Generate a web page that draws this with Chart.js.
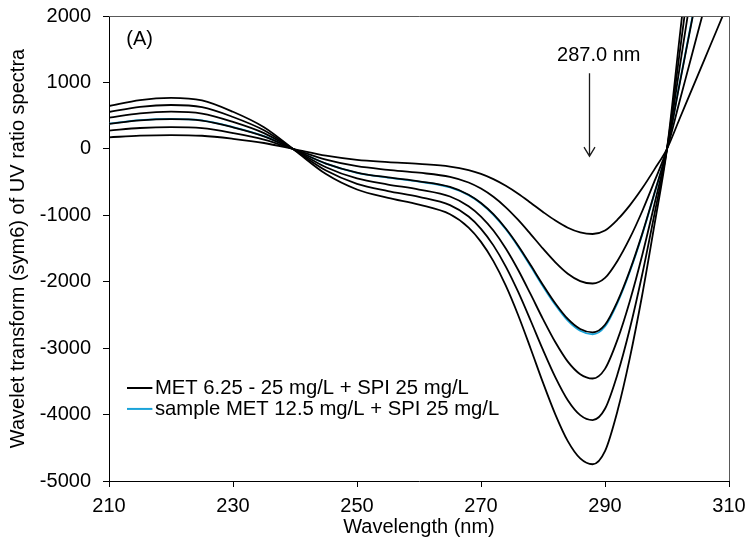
<!DOCTYPE html>
<html>
<head>
<meta charset="utf-8">
<title>Wavelet transform of UV ratio spectra</title>
<script src="https://cdn.jsdelivr.net/npm/chart.js@4/dist/chart.umd.min.js"></script>
<style>
    html, body { margin: 0; padding: 0; background: #fff; }
    #wrap { width: 750px; height: 547px; }
</style>
</head>
<body>
<div id="wrap"><canvas id="waveletChart" width="750" height="547"></canvas></div>
<script>
// Data
const wavelengths = [210, 215, 220, 225, 230, 235, 240, 245, 250, 255, 260, 265, 268, 270, 272, 274, 276, 278, 280, 282, 284, 286, 288, 290, 292, 294, 296, 298, 300, 302, 304, 306, 308, 310];

// MET 6.25 - 25 mg/L (smallest to largest amplitude)
const met1 = [174, 198, 207, 197, 151, 88, -7, -103, -165, -199, -227, -266, -320, -378, -456, -556, -676, -811, -950, -1080, -1188, -1258, -1282, -1229, -1067, -851, -594, -305, 0, 446, 891, 1337, 1782, 2228];
const met2 = [275, 314, 328, 312, 238, 139, -11, -162, -261, -315, -359, -421, -506, -598, -722, -880, -1070, -1283, -1503, -1708, -1879, -1990, -2027, -1943, -1687, -1345, -939, -483, 0, 705, 1409, 2114, 2818, 3523];
const met3 = [375, 428, 447, 425, 325, 189, -15, -221, -356, -430, -489, -573, -690, -815, -984, -1199, -1458, -1749, -2049, -2328, -2561, -2712, -2763, -2648, -2299, -1833, -1280, -658, 0, 960, 1921, 2881, 3841, 4802];
const met4 = [470, 535, 559, 531, 406, 237, -18, -277, -446, -537, -612, -717, -863, -1019, -1230, -1500, -1824, -2188, -2563, -2912, -3203, -3392, -3457, -3312, -2876, -2293, -1602, -823, 0, 1201, 2402, 3604, 4805, 6006];
const met5 = [555, 632, 660, 628, 480, 280, -22, -327, -526, -635, -722, -847, -1019, -1204, -1453, -1772, -2154, -2584, -3027, -3440, -3784, -4008, -4083, -3913, -3397, -2709, -1892, -972, 0, 1419, 2838, 4257, 5676, 7095];
const met6 = [645, 735, 768, 730, 558, 325, -25, -380, -612, -738, -840, -985, -1185, -1400, -1690, -2060, -2505, -3005, -3520, -4000, -4400, -4660, -4748, -4550, -3950, -3150, -2200, -1130, 0, 1650, 3300, 4950, 6600, 8250];

// sample MET 12.5 mg/L
const sample = [379, 432, 452, 429, 328, 191, -15, -223, -360, -434, -494, -579, -697, -823, -994, -1211, -1473, -1767, -2070, -2351, -2587, -2739, -2791, -2674, -2322, -1851, -1293, -665, 0, 970, 1940, 2910, 3879, 4850];

const xTicks = [210, 230, 250, 270, 290, 310];
const yTicks = [2000, 1000, 0, -1000, -2000, -3000, -4000, -5000];

const legendLabels = ['MET 6.25 - 25 mg/L + SPI 25 mg/L', 'sample MET 12.5 mg/L + SPI 25 mg/L'];
const panelLabel = '(A)';
const peakLabel = '287.0 nm';
const peakWavelength = 287.4;

const FONT = "'Liberation Sans', Arial, sans-serif";
const BLACK = '#000000';
const CYAN = '#1aa3d9';

Chart.defaults.font.family = FONT;
Chart.defaults.color = BLACK;

function toPoints(values) {
    return wavelengths.map((w, i) => ({ x: w, y: values[i] }));
}

function lineDataset(label, values, color) {
    return {
        label: label,
        data: toPoints(values),
        borderColor: color,
        borderWidth: 1.8,
        pointRadius: 0,
        fill: false,
        cubicInterpolationMode: 'monotone'
    };
}

// Frame, arrow, labels and legend drawn inside the plot area
const annotationsPlugin = {
    id: 'annotations',
    afterDatasetsDraw(chart) {
        const { ctx, chartArea: a, scales: { x, y } } = chart;
        ctx.save();

        // top / right frame
        ctx.strokeStyle = '#595959';
        ctx.lineWidth = 1;
        ctx.beginPath();
        ctx.moveTo(a.left, a.top + 0.5);
        ctx.lineTo(a.right + 0.5, a.top + 0.5);
        ctx.lineTo(a.right + 0.5, a.bottom);
        ctx.stroke();

        // arrow
        const ax = Math.round(x.getPixelForValue(peakWavelength)) + 0.5;
        const ay1 = y.getPixelForValue(1140);
        const ay2 = y.getPixelForValue(-110);
        ctx.strokeStyle = '#1a1a1a';
        ctx.lineWidth = 1.3;
        ctx.beginPath();
        ctx.moveTo(ax, ay1);
        ctx.lineTo(ax, ay2);
        ctx.moveTo(ax - 5.5, ay2 - 9);
        ctx.lineTo(ax, ay2);
        ctx.lineTo(ax + 5.5, ay2 - 9);
        ctx.stroke();

        ctx.fillStyle = BLACK;
        ctx.font = '20px ' + FONT;
        ctx.textBaseline = 'middle';
        ctx.textAlign = 'center';
        ctx.fillText(peakLabel, x.getPixelForValue(289.0), y.getPixelForValue(1400));

        ctx.textAlign = 'left';
        ctx.fillText(panelLabel, x.getPixelForValue(212.8), y.getPixelForValue(1640));

        // legend
        const lx1 = x.getPixelForValue(212.9);
        const lx2 = x.getPixelForValue(217.0);
        const tx = x.getPixelForValue(217.4);
        const rows = [
            { text: legendLabels[0], color: BLACK, yv: -3600 },
            { text: legendLabels[1], color: CYAN, yv: -3915 }
        ];
        ctx.font = '20.3px ' + FONT;
        rows.forEach(r => {
            const py = y.getPixelForValue(r.yv);
            ctx.strokeStyle = r.color;
            ctx.lineWidth = 2;
            ctx.beginPath();
            ctx.moveTo(lx1, py);
            ctx.lineTo(lx2, py);
            ctx.stroke();
            ctx.fillStyle = BLACK;
            ctx.fillText(r.text, tx, py);
        });

        ctx.restore();
    }
};

const datasets = [
    lineDataset(legendLabels[0], met1, BLACK),
    lineDataset('MET 2', met2, BLACK),
    lineDataset('MET 3', met3, BLACK),
    lineDataset('MET 4', met4, BLACK),
    lineDataset('MET 5', met5, BLACK),
    lineDataset('MET 6', met6, BLACK),
    lineDataset(legendLabels[1], sample, CYAN)
];

new Chart(document.getElementById('waveletChart'), {
    type: 'line',
    data: { datasets: datasets },
    options: {
        responsive: false,
        animation: false,
        devicePixelRatio: 1,
        layout: { padding: { left: 0, top: 16, right: 21, bottom: 0 } },
        plugins: {
            legend: { display: false },
            tooltip: { enabled: false }
        },
        scales: {
            x: {
                type: 'linear',
                min: 210,
                max: 310,
                afterBuildTicks: s => { s.ticks = xTicks.map(v => ({ value: v })); },
                afterFit: s => { s.height = 66; s.paddingLeft = 0; s.paddingRight = 0; },
                ticks: {
                    color: BLACK,
                    font: { size: 20 },
                    padding: 7,
                    maxRotation: 0,
                    callback: v => String(v)
                },
                grid: { display: true, drawOnChartArea: false, drawTicks: true, tickLength: 6, color: BLACK },
                border: { display: true, color: BLACK, width: 1 },
                title: {
                    display: true,
                    text: 'Wavelength (nm)',
                    color: BLACK,
                    font: { size: 20 },
                    padding: { top: 0, bottom: 8 }
                }
            },
            y: {
                type: 'linear',
                min: -5000,
                max: 2000,
                afterBuildTicks: s => { s.ticks = yTicks.map(v => ({ value: v })); },
                afterFit: s => { s.width = 109; s.paddingTop = 0; s.paddingBottom = 0; },
                ticks: {
                    color: BLACK,
                    font: { size: 20 },
                    padding: 12,
                    callback: v => String(v)
                },
                grid: { display: true, drawOnChartArea: false, drawTicks: true, tickLength: 6, color: BLACK },
                border: { display: true, color: BLACK, width: 1 },
                title: {
                    display: true,
                    text: 'Wavelet transform (sym6) of UV ratio spectra',
                    color: BLACK,
                    font: { size: 20 },
                    padding: { top: 6, bottom: 0 }
                }
            }
        }
    },
    plugins: [annotationsPlugin]
});
</script>
</body>
</html>
